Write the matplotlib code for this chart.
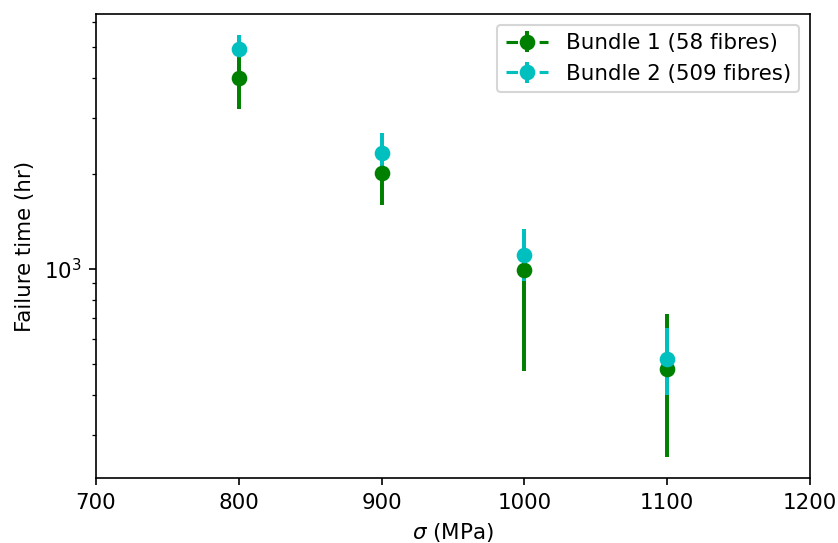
import numpy as np
import matplotlib
matplotlib.use("Agg")
import matplotlib.pyplot as plt

plt.rcParams["font.size"] = 10.25

# stress levels (MPa)
stress = [800, 900, 1000, 1100]

# bundle 1 (58 fibres): failure time and error bar ends (hr)
b1_time = [4000, 2010, 995, 484]
b1_low = [3200, 1590, 476, 255]
b1_high = [4800, 2200, 1150, 721]

# bundle 2 (509 fibres)
b2_time = [4940, 2320, 1107, 520]
b2_low = [4700, 2100, 917, 401]
b2_high = [5470, 2685, 1337, 652]

labels = ["Bundle 1 (58 fibres)", "Bundle 2 (509 fibres)"]

fig = plt.figure(figsize=(838 / 150, 543 / 150), dpi=150)
ax = fig.add_axes([96 / 838, 65 / 543, 714 / 838, 464 / 543])

series = [(b1_time, b1_low, b1_high, "g"), (b2_time, b2_low, b2_high, "c")]
for (t, lo, hi, col), lab in zip(series, labels):
    for i, s in enumerate(stress):
        yerr = [[t[i] - lo[i]], [hi[i] - t[i]]]
        ax.errorbar([s], [t[i]], yerr=yerr, fmt="o--", color=col,
                    elinewidth=1.9, markersize=6.5,
                    label=lab if i == 0 else None)

ax.set_yscale("log")
ax.set_xlim(700, 1200)
ax.set_xlabel(r"$\sigma$ (MPa)")
ax.set_ylabel("Failure time (hr)")
ax.legend(loc="upper right")

fig.savefig("out.png", dpi=150)
